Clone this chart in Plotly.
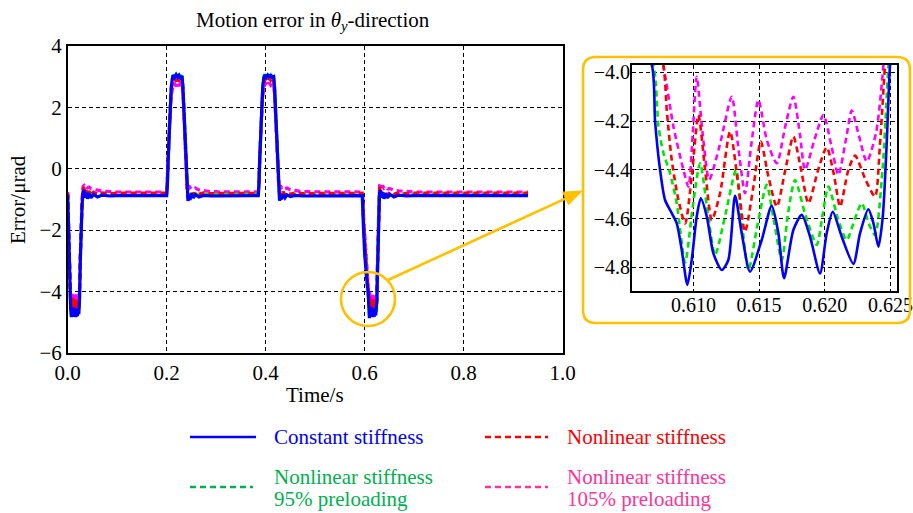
import plotly.graph_objects as go

W, H = 913, 513
FONT = "Liberation Serif"

# ---------------- data: time stamps (s) ----------------
# shared time stamps outside the zoomed window 0.6055-0.6255 s
t_dip1 = [0.000, 0.0015, 0.003, 0.0045, 0.006, 0.0075, 0.009, 0.0105, 0.012, 0.0135,
          0.015, 0.0165, 0.018, 0.0195, 0.021, 0.0225, 0.024, 0.0255, 0.027, 0.029,
          0.031, 0.033, 0.035, 0.037, 0.040, 0.043, 0.047, 0.052, 0.060, 0.070,
          0.085, 0.100, 0.200]
t_pulse1 = [0.2015, 0.203, 0.205, 0.207, 0.209, 0.211, 0.213, 0.216, 0.219, 0.222,
            0.225, 0.228, 0.231, 0.233, 0.235, 0.237, 0.239, 0.241, 0.243, 0.245,
            0.247, 0.250, 0.254, 0.258, 0.265, 0.275, 0.290, 0.385]
t_pulse2 = [0.3865, 0.388, 0.390, 0.392, 0.394, 0.396, 0.398, 0.401, 0.404, 0.407,
            0.410, 0.413, 0.416, 0.418, 0.420, 0.422, 0.424, 0.426, 0.428, 0.430,
            0.432, 0.435, 0.439, 0.443, 0.450, 0.460, 0.475, 0.595]
t_fall = [0.5965, 0.598, 0.600, 0.602, 0.604]
t_tail = [0.6262, 0.6272, 0.6284, 0.630, 0.632, 0.634, 0.636, 0.639, 0.642, 0.646,
          0.651, 0.659, 0.669, 0.684, 0.700, 0.930]

# ---------------- data: Constant stiffness (µrad) ----------------
const_dip1 = [-0.85, -1.8, -3.0, -4.0, -4.6, -4.84, -4.55, -4.82, -4.52, -4.83,
              -4.55, -4.84, -4.58, -4.81, -4.56, -4.74, -4.2, -3.0, -2.0, -1.2,
              -0.75, -0.70, -0.95, -0.78, -0.98, -0.80, -0.95, -0.84, -0.92, -0.86,
              -0.89, -0.88, -0.88]
const_pulse1 = [-0.5, 0.3, 1.2, 2.0, 2.6, 2.9, 3.05, 2.98, 3.06, 2.98,
                3.05, 2.97, 3.02, 2.6, 1.8, 0.9, 0.0, -0.7, -1.05, -0.9,
                -1.02, -0.82, -0.95, -0.85, -0.92, -0.87, -0.89, -0.88]
const_pulse2 = [-0.5, 0.35, 1.25, 2.05, 2.65, 2.95, 3.06, 2.98, 3.05, 2.97,
                3.06, 2.98, 3.0, 2.62, 1.85, 0.95, 0.05, -0.68, -1.04, -0.88,
                -1.0, -0.83, -0.95, -0.85, -0.91, -0.87, -0.89, -0.88]
const_fall = [-1.3, -2.1, -2.8, -3.3, -3.7]
const_win_t = [0.6055, 0.60683, 0.60708, 0.60746, 0.60784, 0.60835, 0.60873, 0.60911,
               0.60954, 0.60987, 0.61025, 0.61056, 0.61102, 0.61152, 0.61216, 0.61266,
               0.61317, 0.61368, 0.61431, 0.61520, 0.61596, 0.61647, 0.61690, 0.61761,
               0.61825, 0.61888, 0.61964, 0.62015, 0.62061, 0.62129, 0.62218, 0.62269,
               0.62332, 0.62371, 0.62409, 0.62442, 0.62472, 0.62497, 0.6255]
const_win_v = [-3.85, -3.97, -4.20, -4.40, -4.524, -4.578, -4.62, -4.729,
               -4.872, -4.77, -4.592, -4.517, -4.592, -4.743, -4.811, -4.77,
               -4.507, -4.66, -4.818, -4.688, -4.548, -4.66, -4.845, -4.647,
               -4.585, -4.674, -4.825, -4.66, -4.572, -4.674, -4.786, -4.66,
               -4.562, -4.62, -4.715, -4.592, -4.29, -3.97, -3.6]
const_tail = [-2.9, -2.0, -1.2, -0.78, -0.70, -0.95, -0.78, -0.98, -0.80, -0.95,
              -0.84, -0.92, -0.86, -0.89, -0.88, -0.88]

# ---------------- data: Nonlinear stiffness ----------------
nonlin_dip1 = [-0.8, -1.7, -2.9, -3.9, -4.4, -4.62, -4.2, -4.6, -4.25, -4.64,
               -4.3, -4.55, -4.28, -4.54, -4.32, -4.5, -4.0, -2.9, -1.9, -1.1,
               -0.65, -0.62, -0.85, -0.70, -0.88, -0.73, -0.86, -0.77, -0.83, -0.79,
               -0.81, -0.80, -0.80]
nonlin_pulse1 = [-0.42, 0.35, 1.2, 1.95, 2.5, 2.75, 2.85, 2.95, 2.85, 2.96,
                 2.88, 2.95, 2.9, 2.5, 1.75, 0.85, 0.0, -0.65, -0.95, -0.8,
                 -0.92, -0.74, -0.86, -0.77, -0.83, -0.79, -0.81, -0.80]
nonlin_pulse2 = [-0.42, 0.38, 1.22, 1.98, 2.52, 2.78, 2.88, 2.96, 2.86, 2.95,
                 2.88, 2.94, 2.9, 2.52, 1.78, 0.88, 0.02, -0.63, -0.94, -0.79,
                 -0.91, -0.75, -0.85, -0.77, -0.83, -0.79, -0.81, -0.80]
nonlin_fall = [-1.1, -1.8, -2.4, -2.9, -3.3]
nonlin_win_t = [0.6055, 0.6077, 0.60797, 0.60835, 0.60886, 0.60937, 0.60987, 0.61038,
                0.61089, 0.61140, 0.61203, 0.61279, 0.61343, 0.61393, 0.61457, 0.61513,
                0.61571, 0.61635, 0.61700, 0.61761, 0.61820, 0.61876, 0.61950, 0.62015,
                0.62070, 0.62117, 0.62180, 0.62231, 0.62310, 0.62383, 0.62420, 0.62459,
                0.6252]
nonlin_win_v = [-3.55, -3.97, -4.155, -4.36, -4.524, -4.62, -4.428, -4.175,
                -4.40, -4.606, -4.496, -4.243, -4.469, -4.654, -4.469, -4.284,
                -4.428, -4.551, -4.40, -4.264, -4.40, -4.537, -4.40, -4.308,
                -4.42, -4.551, -4.40, -4.342, -4.44, -4.51, -4.30, -3.97,
                -3.5]
nonlin_tail = [-2.7, -1.8, -1.05, -0.65, -0.6, -0.85, -0.7, -0.88, -0.73, -0.86,
               -0.77, -0.83, -0.79, -0.81, -0.80, -0.80]

# ---------------- data: Nonlinear stiffness, 95% preloading ----------------
pre95_dip1 = [-0.82, -1.75, -2.95, -3.95, -4.5, -4.77, -4.38, -4.76, -4.42, -4.80,
              -4.46, -4.76, -4.44, -4.70, -4.47, -4.66, -4.1, -2.95, -1.95, -1.15,
              -0.7, -0.66, -0.9, -0.74, -0.93, -0.77, -0.9, -0.8, -0.86, -0.82,
              -0.84, -0.83, -0.83]
pre95_pulse1 = [-0.45, 0.35, 1.25, 2.05, 2.65, 2.95, 3.08, 3.0, 3.08, 3.0,
                3.07, 3.0, 3.04, 2.65, 1.85, 0.95, 0.05, -0.68, -1.02, -0.86,
                -0.98, -0.78, -0.91, -0.81, -0.88, -0.83, -0.84, -0.83]
pre95_pulse2 = [-0.45, 0.38, 1.28, 2.08, 2.68, 2.98, 3.08, 3.0, 3.08, 3.0,
                3.06, 3.0, 3.04, 2.66, 1.88, 0.98, 0.08, -0.66, -1.03, -0.86,
                -0.97, -0.79, -0.9, -0.81, -0.87, -0.83, -0.84, -0.83]
pre95_fall = [-1.2, -2.0, -2.7, -3.2, -3.6]
pre95_win_t = [0.6055, 0.60695, 0.60734, 0.60772, 0.60822, 0.60873, 0.60937, 0.60995,
               0.61051, 0.61110, 0.61165, 0.61245, 0.61325, 0.61370, 0.61419, 0.61490,
               0.61558, 0.61610, 0.61673, 0.61720, 0.61774, 0.61850, 0.61939, 0.61985,
               0.62028, 0.62100, 0.62168, 0.62230, 0.62282, 0.62335, 0.62383, 0.62440,
               0.62485, 0.6254]
pre95_win_v = [-3.8, -3.97, -4.223, -4.332, -4.414, -4.537, -4.78, -4.55,
               -4.373, -4.58, -4.749, -4.58, -4.40, -4.62, -4.811, -4.62,
               -4.462, -4.60, -4.77, -4.58, -4.442, -4.58, -4.708, -4.58,
               -4.469, -4.60, -4.688, -4.60, -4.537, -4.62, -4.667, -4.40,
               -3.97, -3.55]
pre95_tail = [-2.8, -1.9, -1.1, -0.7, -0.66, -0.9, -0.74, -0.93, -0.77, -0.9,
              -0.8, -0.86, -0.82, -0.84, -0.83, -0.83]

# ---------------- data: Nonlinear stiffness, 105% preloading ----------------
pre105_dip1 = [-0.76, -1.6, -2.8, -3.8, -4.3, -4.47, -4.02, -4.45, -4.10, -4.50,
               -4.11, -4.37, -4.10, -4.40, -4.17, -4.42, -3.9, -2.8, -1.8, -1.0,
               -0.58, -0.55, -0.6, -0.56, -0.62, -0.6, -0.65, -0.66, -0.7, -0.73,
               -0.75, -0.76, -0.76]
pre105_pulse1 = [-0.35, 0.3, 1.1, 1.8, 2.3, 2.55, 2.7, 2.8, 2.68, 2.8,
                 2.7, 2.78, 2.72, 2.35, 1.65, 0.8, -0.05, -0.5, -0.6, -0.55,
                 -0.62, -0.58, -0.65, -0.63, -0.69, -0.72, -0.75, -0.76]
pre105_pulse2 = [-0.35, 0.32, 1.12, 1.82, 2.32, 2.58, 2.72, 2.8, 2.7, 2.8,
                 2.72, 2.78, 2.72, 2.36, 1.68, 0.82, -0.03, -0.5, -0.6, -0.55,
                 -0.62, -0.58, -0.65, -0.63, -0.69, -0.72, -0.75, -0.76]
pre105_fall = [-1.0, -1.6, -2.2, -2.7, -3.1]
pre105_win_t = [0.6055, 0.6077, 0.60848, 0.60924, 0.60962, 0.60995, 0.61025, 0.61070,
                0.61120, 0.61200, 0.61292, 0.61340, 0.61393, 0.61440, 0.61495, 0.61560,
                0.61635, 0.61700, 0.61761, 0.61810, 0.61850, 0.61920, 0.61990, 0.62050,
                0.62104, 0.62160, 0.62206, 0.62260, 0.62320, 0.62390, 0.62447, 0.6251]
pre105_win_v = [-3.45, -3.97, -4.223, -4.40, -4.469, -4.25, -4.018, -4.25,
                -4.44, -4.30, -4.10, -4.30, -4.496, -4.30, -4.113, -4.28,
                -4.373, -4.22, -4.10, -4.25, -4.40, -4.28, -4.175, -4.30,
                -4.421, -4.28, -4.157, -4.26, -4.366, -4.25, -3.97, -3.4]
pre105_tail = [-2.5, -1.6, -0.9, -0.55, -0.5, -0.62, -0.55, -0.64, -0.6, -0.66,
               -0.65, -0.7, -0.72, -0.75, -0.76, -0.76]

t_before = t_dip1 + t_pulse1 + t_pulse2 + t_fall


def assemble(dip1, p1, p2, fall, win_t, win_v, tail):
    t = t_before + win_t + t_tail
    v = dip1 + p1 + p2 + fall + win_v + tail
    return t, v


series = [
    # name, colour in plot, dash, data
    ("Nonlinear stiffness 105% preloading", "#FF00FF", "6px,4px",
     assemble(pre105_dip1, pre105_pulse1, pre105_pulse2, pre105_fall,
              pre105_win_t, pre105_win_v, pre105_tail)),
    ("Nonlinear stiffness 95% preloading", "#00E600", "6px,4px",
     assemble(pre95_dip1, pre95_pulse1, pre95_pulse2, pre95_fall,
              pre95_win_t, pre95_win_v, pre95_tail)),
    ("Nonlinear stiffness", "#FF0000", "6px,4px",
     assemble(nonlin_dip1, nonlin_pulse1, nonlin_pulse2, nonlin_fall,
              nonlin_win_t, nonlin_win_v, nonlin_tail)),
    ("Constant stiffness", "#0000FF", "solid",
     assemble(const_dip1, const_pulse1, const_pulse2, const_fall,
              const_win_t, const_win_v, const_tail)),
]


def px(x):
    return x / W


def py(y):
    return 1 - y / H


fig = go.Figure()

# full record on the main axes
for name, col, dash, (t, v) in series:
    fig.add_trace(go.Scatter(x=t, y=v, mode="lines", name=name, showlegend=False,
                             line=dict(color=col, width=3.2, dash=dash),
                             xaxis="x", yaxis="y"))

# zoomed window on the inset axes
for name, col, dash, (t, v) in series:
    fig.add_trace(go.Scatter(x=t, y=v, mode="lines", name=name, showlegend=False,
                             line=dict(color=col, width=2.6, dash=dash,
                                       shape="spline", smoothing=0.7),
                             xaxis="x2", yaxis="y2"))

axis_common = dict(showgrid=True, gridcolor="black", griddash="4px,3px", gridwidth=1.2,
                   showline=True, linecolor="black", linewidth=1.5, mirror=True,
                   ticks="", zeroline=False, automargin=False,
                   tickfont=dict(family=FONT, size=21, color="black"))
inset_font = dict(family=FONT, size=20, color="black")

fig.update_layout(
    width=W, height=H, autosize=False,
    margin=dict(l=0, r=0, t=0, b=0, pad=0, autoexpand=False),
    paper_bgcolor="white", plot_bgcolor="white",
    showlegend=False,
    xaxis=dict(domain=[px(67.7), px(562.7)], range=[0, 1], tick0=0, dtick=0.2,
               tickformat=".1f", anchor="y", ticklabelstandoff=0, **axis_common),
    yaxis=dict(domain=[py(352.7), py(46)], range=[-6, 4], tick0=-6, dtick=2,
               anchor="x", ticklabelstandoff=0, **axis_common),
    xaxis2=dict(domain=[px(631.7), px(896.7)], range=[0.6053, 0.62548],
                tickvals=[0.610, 0.615, 0.620, 0.625], tickformat=".3f",
                anchor="y2", ticklabelstandoff=-4,
                **{**axis_common, "tickfont": inset_font}),
    yaxis2=dict(domain=[py(290.7), py(65)], range=[-4.896, -3.970],
                tickvals=[-4.0, -4.2, -4.4, -4.6, -4.8], tickformat=".1f",
                anchor="x2", ticklabelstandoff=-4,
                **{**axis_common, "tickfont": inset_font}),
)

YEL = "#FFC000"
shapes = []

# magnifier circle around the third dip
cx, cy, r = 368, 299, 27
shapes.append(dict(type="circle", xref="paper", yref="paper",
                   x0=px(cx - r), x1=px(cx + r), y0=py(cy + r), y1=py(cy - r),
                   line=dict(color=YEL, width=2.6)))

# arrow from circle to the inset frame
x_a, y_a, x_b, y_b = 388, 280, 582, 191
dx, dy = x_b - x_a, y_b - y_a
L = (dx * dx + dy * dy) ** 0.5
ux, uy = dx / L, dy / L
head_len, head_half = 18, 7
bx, by = x_b - ux * head_len, y_b - uy * head_len
shapes.append(dict(type="line", xref="paper", yref="paper",
                   x0=px(x_a), y0=py(y_a), x1=px(bx + ux * 2), y1=py(by + uy * 2),
                   line=dict(color=YEL, width=2.6)))
c1 = (bx - uy * head_half, by + ux * head_half)
c2 = (bx + uy * head_half, by - ux * head_half)
shapes.append(dict(type="path", xref="paper", yref="paper",
                   path=f"M {px(x_b)},{py(y_b)} L {px(c1[0])},{py(c1[1])} "
                        f"L {px(c2[0])},{py(c2[1])} Z",
                   fillcolor=YEL, line=dict(color=YEL, width=1)))

# rounded frame around the inset
l, t_, rr, b, rad = 583, 57, 910, 323, 13
path = (f"M {px(l + rad)},{py(t_)} L {px(rr - rad)},{py(t_)} "
        f"Q {px(rr)},{py(t_)} {px(rr)},{py(t_ + rad)} "
        f"L {px(rr)},{py(b - rad)} Q {px(rr)},{py(b)} {px(rr - rad)},{py(b)} "
        f"L {px(l + rad)},{py(b)} Q {px(l)},{py(b)} {px(l)},{py(b - rad)} "
        f"L {px(l)},{py(t_ + rad)} Q {px(l)},{py(t_)} {px(l + rad)},{py(t_)} Z")
shapes.append(dict(type="path", xref="paper", yref="paper", path=path,
                   line=dict(color=YEL, width=2.6)))

# legend line samples
legend_rows = [
    (190, 256, 437, "#0000FF", "solid"),
    (485, 548, 437, "#FF0000", "6px,4px"),
    (190, 253, 487, "#00B050", "6px,4px"),
    (485, 548, 487, "#FF3399", "6px,4px"),
]
for x0, x1, yy, col, dash in legend_rows:
    shapes.append(dict(type="line", xref="paper", yref="paper",
                       x0=px(x0), x1=px(x1), y0=py(yy), y1=py(yy),
                       line=dict(color=col, width=2.6, dash=dash)))

fig.update_layout(shapes=shapes)


def label(x, y, text, color="black", size=21, xanchor="left", angle=0):
    fig.add_annotation(x=px(x), y=py(y), xref="paper", yref="paper", text=text,
                       showarrow=False, xanchor=xanchor, yanchor="middle",
                       textangle=angle,
                       font=dict(family=FONT, size=size, color=color))


label(313, 21, "Motion error in <i>θ</i><sub><i>y</i></sub>-direction", xanchor="center")
label(315, 395, "Time/s", xanchor="center")
label(18, 200, "Error/μrad", xanchor="center", angle=-90)

label(272, 437, "Constant stiffness", color="#0000FF")
label(565, 437, "Nonlinear stiffness", color="#FF0000")
label(272, 477, "Nonlinear stiffness", color="#00B050")
label(272, 499, "95% preloading", color="#00B050")
label(565, 477, "Nonlinear stiffness", color="#FF3399")
label(565, 499, "105% preloading", color="#FF3399")

# page without body margin and without scrollbars
page_js = ("document.body.style.margin='0';"
           "document.documentElement.style.overflow='hidden';")

fig.write_html("out.html", post_script=page_js, config={"displayModeBar": False})
